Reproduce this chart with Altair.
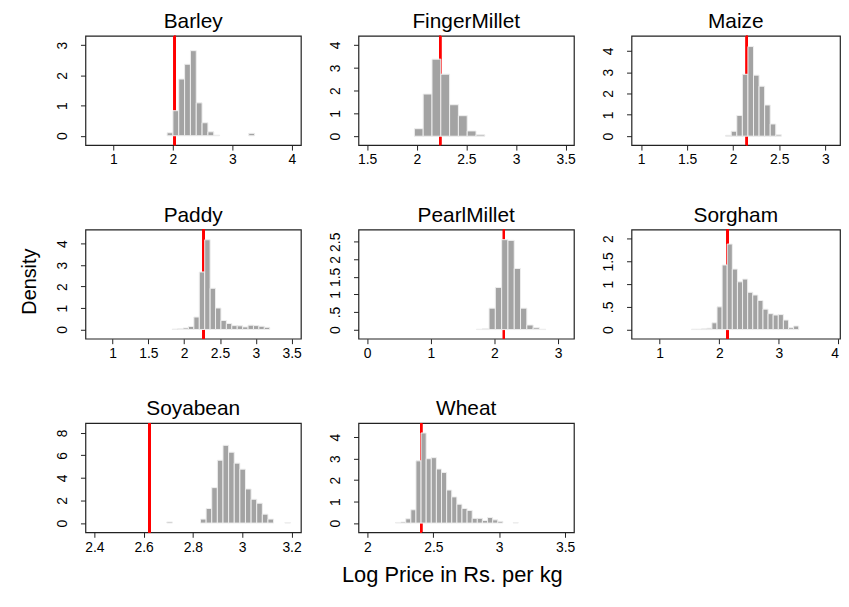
import altair as alt
import pandas as pd

FONT = "Liberation Sans"
BAR = "#a3a3a3"

# ---- data (histogram bins: first left edge, bin width, densities) ----
barley_start, barley_w = 1.902, 0.098
barley_h = [0.1, 0.83, 1.88, 2.37, 2.82, 1.09, 0.43, 0.13, 0.02, 0, 0, 0, 0, 0, 0.08]
barley_red = 2.03

finger_start, finger_w = 1.976, 0.0887
finger_h = [0.33, 1.85, 3.38, 2.72, 1.38, 0.9, 0.23, 0.06]
finger_red = 2.236

maize_start, maize_w = 1.918, 0.0605
maize_h = [0.04, 0.23, 0.97, 2.9, 4.2, 2.86, 2.34, 1.46, 0.57, 0.06]
maize_red = 2.148

paddy_start, paddy_w = 1.832, 0.0757
paddy_h = [0.02, 0.04, 0.07, 0.14, 0.58, 2.68, 4.18, 1.92, 1.0, 0.42, 0.28, 0.18,
           0.17, 0.12, 0.2, 0.18, 0.15, 0.1]
paddy_red = 2.274

pearl_start, pearl_w = 1.718, 0.099
pearl_h = [0.01, 0.03, 0.61, 1.2, 2.56, 2.54, 1.74, 0.61, 0.13, 0.05, 0.01]
pearl_red = 2.15

sorg_start, sorg_w = 1.534, 0.0857
sorg_h = [0.01, 0.01, 0.02, 0.03, 0.15, 0.5, 1.42, 1.88, 1.33, 1.05, 1.11, 0.82, 0.76,
          0.64, 0.45, 0.35, 0.32, 0.33, 0.21, 0.04, 0.08]
sorg_red = 2.144

soya_start, soya_w = 2.694, 0.0228
soya_h = [0.1, 0, 0, 0, 0, 0, 0.35, 1.29, 3.14, 5.57, 6.89, 6.28, 5.31, 4.78, 3.02,
          2.11, 1.76, 0.79, 0.35, 0, 0, 0.03]
soya_red = 2.624

wheat_start, wheat_w = 2.213, 0.0388
wheat_h = [0.03, 0.05, 0.2, 0.62, 2.9, 4.2, 3.0, 3.05, 2.52, 2.36, 1.54, 1.22, 0.88,
           0.68, 0.59, 0.22, 0.22, 0.12, 0.26, 0.15, 0.08, 0, 0, 0.02]
wheat_red = 2.407

W, H = 217, 110
W3 = 210


def fmt_x():
    return "datum.value % 1 == 0 ? format(datum.value, 'd') : format(datum.value, '.1f')"


def fmt_y():
    return ("datum.value % 1 == 0 ? format(datum.value, 'd') : "
            "replace(format(datum.value, '.1f'), '0.', '.')")


def panel(name, start, bw, heights, red, xdom, ydom, xticks, yticks, width,
          ytitle=False, xtitle=False, last_right=False):
    rows = []
    for i, h in enumerate(heights):
        if h > 0:
            rows.append({"x0": start + i * bw, "x1": start + (i + 1) * bw, "h": h, "z": 0})
    df = pd.DataFrame(rows)

    xax = dict(values=xticks, labelExpr=fmt_x(), tickSize=5, labelPadding=3,
               labelFontSize=14, labelFont=FONT, labelColor="black", tickColor="#222",
               domain=False, grid=False, labelFlush=False, labelOverlap=False,
               labelBaseline="top")
    if last_right:
        xax["labelAlign"] = {"condition": {"test": "datum.value == %s" % xticks[-1],
                                           "value": "right"},
                             "value": "center"}
    if xtitle:
        xax.update(title="Log Price in Rs. per kg", titleX=94, titleY=43,
                   titleBaseline="middle", titleAlign="center", titleFontSize=22,
                   titleFont=FONT, titleFontWeight="normal", titleColor="black")
    else:
        xax["title"] = None
    yax = dict(values=yticks, labelExpr=fmt_y(), tickSize=5, labelPadding=14,
               labelFontSize=14, labelFont=FONT, labelColor="black", tickColor="#222",
               labelAngle=-90, labelAlign="center", labelBaseline="alphabetic",
               domain=False, grid=False, labelFlush=False, labelOverlap=False)
    if ytitle:
        yax.update(title="Density", titleX=-56, titleY=52, titleAngle=-90,
                   titleBaseline="middle", titleAlign="center", titleFontSize=20,
                   titleFont=FONT, titleFontWeight="normal", titleColor="black")
    else:
        yax["title"] = None

    xs = alt.Scale(domain=xdom, nice=False, zero=False)
    ys = alt.Scale(domain=ydom, nice=False, zero=False)

    rule = alt.Chart(df).mark_rule(color="#ff0000", strokeWidth=2).encode(
        x=alt.datum(red, scale=xs, axis=alt.Axis(**xax)),
    )
    bars = alt.Chart(df).mark_rect(color=BAR, stroke="#eeeeee", strokeWidth=1, clip=True).encode(
        x=alt.X("x0:Q", scale=xs, axis=alt.Axis(**xax)),
        x2="x1:Q",
        y=alt.Y("h:Q", scale=ys, axis=alt.Axis(**yax)),
        y2="z:Q",
    )
    return alt.layer(rule, bars).properties(
        width=width, height=H,
        title=alt.TitleParams(name, fontSize=21, font=FONT, fontWeight="normal",
                              color="black", anchor="middle", offset=3),
    )


p1 = panel("Barley", barley_start, barley_w, barley_h, barley_red,
           [0.53, 4.15], [-0.31, 3.31], [1, 2, 3, 4], [0, 1, 2, 3], W)
p2 = panel("FingerMillet", finger_start, finger_w, finger_h, finger_red,
           [1.413, 3.583], [-0.39, 4.4], [1.5, 2, 2.5, 3, 3.5], [0, 1, 2, 3, 4], W)
p3 = panel("Maize", maize_start, maize_w, maize_h, maize_red,
           [0.895, 0.895 + W3 / 92.7], [-0.42, 4.7], [1, 1.5, 2, 2.5, 3], [0, 1, 2, 3, 4], W3)
p4 = panel("Paddy", paddy_start, paddy_w, paddy_h, paddy_red,
           [0.62, 3.63], [-0.43, 4.66], [1, 1.5, 2, 2.5, 3, 3.5], [0, 1, 2, 3, 4], W,
           ytitle=True)
p5 = panel("PearlMillet", pearl_start, pearl_w, pearl_h, pearl_red,
           [-0.136, 3.25], [-0.26, 2.85], [0, 1, 2, 3], [0, 0.5, 1, 1.5, 2, 2.5], W)
p6 = panel("Sorgham", sorg_start, sorg_w, sorg_h, sorg_red,
           [0.527, 0.527 + W3 / 60.0], [-0.2, 2.2], [1, 2, 3, 4], [0, 0.5, 1, 1.5, 2], W3,
           last_right=True)
p7 = panel("Soyabean", soya_start, soya_w, soya_h, soya_red,
           [2.364, 3.238], [-0.82, 8.86], [2.4, 2.6, 2.8, 3, 3.2], [0, 2, 4, 6, 8], W)
p8 = panel("Wheat", wheat_start, wheat_w, wheat_h, wheat_red,
           [1.932, 3.567], [-0.43, 4.66], [2, 2.5, 3, 3.5], [0, 1, 2, 3, 4], W,
           xtitle=True)

chart = alt.concat(p1, p2, p3, p4, p5, p6, p7, p8, columns=3,
                   spacing={"row": 85, "column": 58}, bounds="flush").properties(
    padding={"left": 11, "top": 0, "right": 0, "bottom": 0},
    background="white",
).configure_view(stroke="#222222", strokeWidth=1.2)

chart.save("out.html", embed_options={"renderer": "svg", "actions": False})
